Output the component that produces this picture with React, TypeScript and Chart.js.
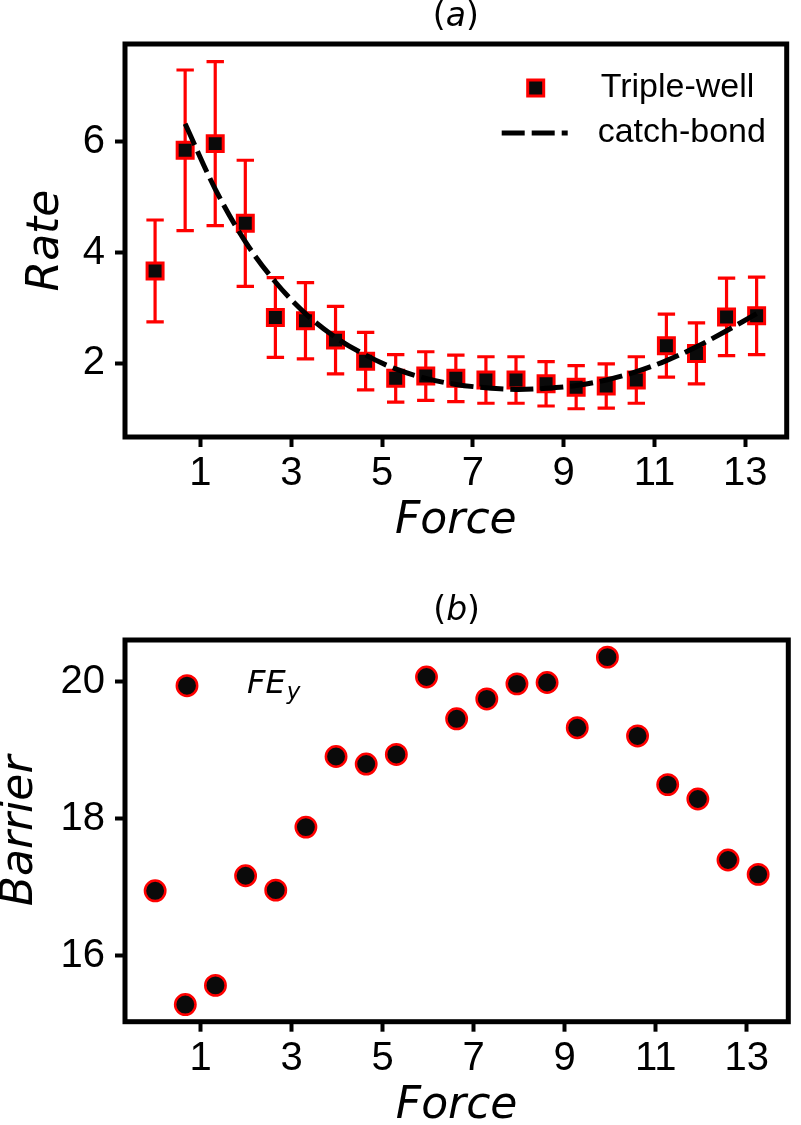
import React, { useEffect, useRef } from "react";
import { Chart, registerables } from "chart.js";

Chart.register(...registerables);

// ---------- data ----------
const force = [0, 0.6625, 1.325, 1.9875, 2.65, 3.3125, 3.975, 4.6375, 5.3, 5.9625, 6.625, 7.2875, 7.95, 8.6125, 9.275, 9.9375, 10.6, 11.2625, 11.925, 12.5875, 13.25];
const rate = [3.67, 5.85, 5.97, 4.53, 2.83, 2.77, 2.42, 2.04, 1.73, 1.77, 1.73, 1.70, 1.70, 1.63, 1.57, 1.59, 1.70, 2.32, 2.18, 2.84, 2.86];
const rateErr = [0.92, 1.45, 1.48, 1.14, 0.72, 0.69, 0.61, 0.52, 0.43, 0.44, 0.42, 0.42, 0.42, 0.40, 0.39, 0.40, 0.42, 0.57, 0.55, 0.70, 0.70];
const fitForce = [0.6625, 1.325, 1.9875, 2.65, 3.3125, 3.975, 4.6375, 5.3, 5.9625, 6.625, 7.2875, 7.95, 8.6125, 9.275, 9.9375, 10.6, 11.2625, 11.925, 12.5875, 13.25];
const fitRate = [6.33, 5.15, 4.20, 3.47, 2.90, 2.47, 2.15, 1.90, 1.73, 1.62, 1.56, 1.53, 1.55, 1.60, 1.70, 1.85, 2.05, 2.30, 2.59, 2.90];
const barrier = [16.95, 15.29, 15.57, 17.17, 16.96, 17.88, 18.91, 18.80, 18.94, 20.07, 19.46, 19.75, 19.97, 19.99, 19.33, 20.36, 19.21, 18.50, 18.29, 17.40, 17.19];

const forceTicks = [1, 3, 5, 7, 9, 11, 13];
const rateTicks = [2, 4, 6];
const barrierTicks = [16, 18, 20];
const forceRange = [-0.6625, 13.9125];
const rateRange = [0.67, 7.77];
const barrierRange = [15.04, 20.61];

const seriesA = "Triple-well";
const seriesFit = "catch-bond";
const seriesB = "FE";
const seriesBSub = "y";
const xTitle = "Force";
const yTitleA = "Rate";
const yTitleB = "Barrier";
const panelA = "a";
const panelB = "b";

// ---------- styles ----------
const RED = "#ff0000";
const BLACK = "#0a0a0a";
const SANS = "'Liberation Sans', Arial, sans-serif";
const DEJAVU = "'DejaVu Sans', sans-serif";
const TICK_SIZE = 40;

function drawPanelTitle(ctx: CanvasRenderingContext2D, cx: number, cy: number, letter: string) {
  ctx.save();
  ctx.fillStyle = "#000";
  ctx.textBaseline = "middle";
  ctx.textAlign = "left";
  const up = `33px ${DEJAVU}`;
  const it = `italic 33px ${DEJAVU}`;
  ctx.font = up;
  const w1 = ctx.measureText("(").width;
  const w3 = ctx.measureText(")").width;
  ctx.font = it;
  const w2 = ctx.measureText(letter).width;
  let x = cx - (w1 + w2 + w3) / 2;
  ctx.font = up;
  ctx.fillText("(", x, cy);
  x += w1;
  ctx.font = it;
  ctx.fillText(letter, x, cy);
  x += w2;
  ctx.font = up;
  ctx.fillText(")", x, cy);
  ctx.restore();
}

const framePlugin = {
  id: "frame",
  afterDraw(chart: any) {
    const { ctx, chartArea: a } = chart;
    ctx.save();
    ctx.strokeStyle = "#000";
    ctx.lineWidth = 5;
    ctx.strokeRect(a.left, a.top, a.right - a.left, a.bottom - a.top);
    ctx.restore();
  },
};

function xScaleOpts(height: number, titleBottomPad: number) {
  return {
    type: "linear",
    min: forceRange[0],
    max: forceRange[1],
    afterBuildTicks: (s: any) => {
      s.ticks = forceTicks.map((v) => ({ value: v }));
    },
    afterFit: (s: any) => {
      s.height = height;
    },
    grid: { drawOnChartArea: false, drawTicks: true, tickLength: 10, tickWidth: 4, tickColor: "#000" },
    border: { display: false },
    ticks: {
      font: { family: SANS, size: TICK_SIZE },
      color: "#000",
      padding: 3,
      maxRotation: 0,
      autoSkip: false,
      callback: (v: any) => String(v),
    },
    title: {
      display: true,
      text: xTitle,
      color: "#000",
      font: { family: DEJAVU, style: "italic", size: 44, lineHeight: 0.8 },
      padding: { top: 0, bottom: titleBottomPad },
    },
  };
}

function yScaleOpts(range: number[], ticks: number[], title: string, titlePadTop: number) {
  return {
    type: "linear",
    min: range[0],
    max: range[1],
    afterBuildTicks: (s: any) => {
      s.ticks = ticks.map((v) => ({ value: v }));
    },
    afterFit: (s: any) => {
      s.width = 125;
    },
    grid: { drawOnChartArea: false, drawTicks: true, tickLength: 10, tickWidth: 4, tickColor: "#000" },
    border: { display: false },
    ticks: {
      font: { family: SANS, size: TICK_SIZE },
      color: "#000",
      padding: 10,
      autoSkip: false,
      callback: (v: any) => String(v),
    },
    title: {
      display: true,
      text: title,
      color: "#000",
      font: { family: DEJAVU, style: "italic", size: 44, lineHeight: 0.93 },
      padding: { top: titlePadTop, bottom: 0 },
    },
  };
}

function buildChartA(canvas: HTMLCanvasElement) {
  const errorBars = {
    id: "errorBars",
    beforeDatasetsDraw(chart: any) {
      const { ctx, scales } = chart;
      ctx.save();
      ctx.strokeStyle = RED;
      ctx.lineWidth = 3.2;
      ctx.lineCap = "butt";
      for (let i = 0; i < force.length; i++) {
        const px = scales.x.getPixelForValue(force[i]);
        const yTop = scales.y.getPixelForValue(rate[i] + rateErr[i]);
        const yBot = scales.y.getPixelForValue(rate[i] - rateErr[i]);
        ctx.beginPath();
        ctx.moveTo(px, yTop);
        ctx.lineTo(px, yBot);
        ctx.moveTo(px - 8.7, yTop);
        ctx.lineTo(px + 8.7, yTop);
        ctx.moveTo(px - 8.7, yBot);
        ctx.lineTo(px + 8.7, yBot);
        ctx.stroke();
      }
      ctx.restore();
    },
  };
  const legendA = {
    id: "legendA",
    afterDraw(chart: any) {
      const { ctx, chartArea: a } = chart;
      const y1 = a.top + 44;
      const y2 = a.top + 89;
      ctx.save();
      const side = 16;
      const mx = a.right - 251;
      ctx.fillStyle = BLACK;
      ctx.fillRect(mx - side / 2, y1 - side / 2, side, side);
      ctx.strokeStyle = RED;
      ctx.lineWidth = 3;
      ctx.strokeRect(mx - side / 2, y1 - side / 2, side, side);
      ctx.strokeStyle = "#000";
      ctx.lineWidth = 5;
      ctx.lineCap = "butt";
      ctx.setLineDash([23, 7]);
      ctx.beginPath();
      ctx.moveTo(a.right - 285, y2);
      ctx.lineTo(a.right - 219, y2);
      ctx.stroke();
      ctx.setLineDash([]);
      ctx.fillStyle = "#000";
      ctx.font = `34px ${SANS}`;
      ctx.textBaseline = "middle";
      ctx.textAlign = "left";
      ctx.fillText(seriesA, a.right - 186, y1);
      ctx.fillText(seriesFit, a.right - 189, y2);
      ctx.restore();
      drawPanelTitle(ctx, (a.left + a.right) / 2, a.top - 27, panelA);
    },
  };
  return new Chart(canvas, {
    type: "scatter",
    data: {
      datasets: [
        {
          label: seriesFit,
          data: fitForce.map((x, i) => ({ x, y: fitRate[i] })),
          showLine: true,
          borderColor: "#000",
          borderWidth: 5,
          borderDash: [23, 7],
          borderCapStyle: "butt",
          pointRadius: 0,
          pointHoverRadius: 0,
          tension: 0.35,
          fill: false,
          order: 0,
        } as any,
        {
          label: seriesA,
          data: force.map((x, i) => ({ x, y: rate[i] })),
          showLine: false,
          pointStyle: "rect",
          pointRadius: 11.3,
          backgroundColor: BLACK,
          borderColor: RED,
          borderWidth: 3,
          order: 1,
        } as any,
      ],
    },
    options: {
      animation: false,
      responsive: false,
      maintainAspectRatio: false,
      events: [],
      layout: { padding: { top: 44, right: 4, left: 0, bottom: 0 } },
      plugins: { legend: { display: false }, tooltip: { enabled: false }, title: { display: false } },
      scales: {
        x: xScaleOpts(123, 20.8),
        y: yScaleOpts(rateRange, rateTicks, yTitleA, 26),
      } as any,
    },
    plugins: [errorBars, framePlugin, legendA],
  });
}

function buildChartB(canvas: HTMLCanvasElement) {
  const legendB = {
    id: "legendB",
    afterDraw(chart: any) {
      const { ctx, chartArea: a } = chart;
      const cy = a.top + 45.7;
      const mx = a.left + 62;
      ctx.save();
      ctx.beginPath();
      ctx.arc(mx, cy, 10.2, 0, Math.PI * 2);
      ctx.fillStyle = BLACK;
      ctx.fill();
      ctx.strokeStyle = RED;
      ctx.lineWidth = 2.5;
      ctx.stroke();
      ctx.fillStyle = "#000";
      ctx.textAlign = "left";
      ctx.textBaseline = "alphabetic";
      ctx.font = `italic 32px ${DEJAVU}`;
      const tx = a.left + 122;
      const base = cy + 7.5;
      ctx.fillText(seriesB, tx, base);
      const w = ctx.measureText(seriesB).width;
      ctx.font = `italic 23px ${DEJAVU}`;
      ctx.fillText(seriesBSub, tx + w + 1, base + 6);
      ctx.restore();
      drawPanelTitle(ctx, (a.left + a.right) / 2, a.top - 29, panelB);
    },
  };
  return new Chart(canvas, {
    type: "scatter",
    data: {
      datasets: [
        {
          label: seriesB + "_" + seriesBSub,
          data: force.map((x, i) => ({ x, y: barrier[i] })),
          showLine: false,
          pointStyle: "circle",
          pointRadius: 10.2,
          backgroundColor: BLACK,
          borderColor: RED,
          borderWidth: 2.5,
        } as any,
      ],
    },
    options: {
      animation: false,
      responsive: false,
      maintainAspectRatio: false,
      events: [],
      layout: { padding: { top: 80, right: 4, left: 0, bottom: 0 } },
      plugins: { legend: { display: false }, tooltip: { enabled: false }, title: { display: false } },
      scales: {
        x: xScaleOpts(103.3, 0.8),
        y: yScaleOpts(barrierRange, barrierTicks, yTitleB, 0),
      } as any,
    },
    plugins: [framePlugin, legendB],
  });
}

export default function App() {
  const refA = useRef<HTMLCanvasElement | null>(null);
  const refB = useRef<HTMLCanvasElement | null>(null);

  useEffect(() => {
    if (!refA.current || !refB.current) return;
    const ca = buildChartA(refA.current);
    const cb = buildChartB(refB.current);
    return () => {
      ca.destroy();
      cb.destroy();
    };
  }, []);

  return (
    <div style={{ position: "absolute", left: 0, top: 0, width: 801, height: 1125, background: "#fff", overflow: "hidden" }}>
      <canvas ref={refA} width={801} height={560} style={{ position: "absolute", left: 0, top: 0, width: 801, height: 560 }} />
      <canvas ref={refB} width={801} height={565} style={{ position: "absolute", left: 0, top: 560, width: 801, height: 565 }} />
    </div>
  );
}
